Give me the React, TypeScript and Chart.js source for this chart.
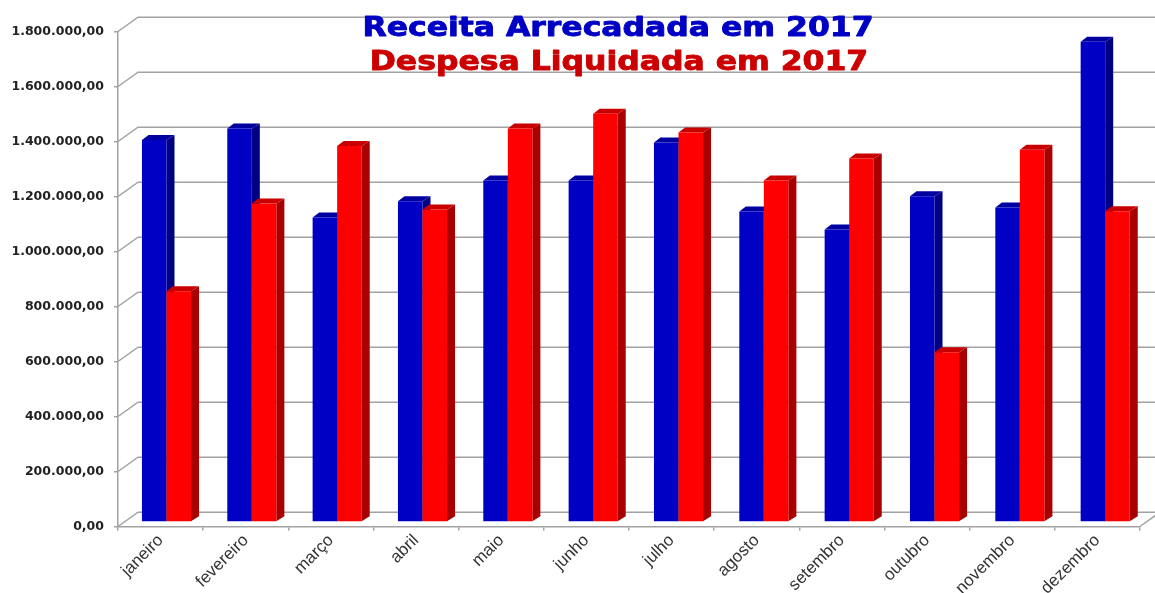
import React, { useEffect, useRef } from "react";
import { Chart, registerables } from "chart.js";

Chart.register(...registerables);

const categories = ["janeiro", "fevereiro", "março", "abril", "maio", "junho", "julho", "agosto", "setembro", "outubro", "novembro", "dezembro"];
const receita = [1389000, 1431000, 1107000, 1166000, 1242000, 1242000, 1380000, 1129000, 1064000, 1185000, 1144000, 1746000];
const despesa = [839000, 1158000, 1367000, 1136000, 1431000, 1485000, 1416000, 1242000, 1322000, 617000, 1354000, 1130000];
const titleLines = ["Receita Arrecadada em 2017", "Despesa Liquidada em 2017"];

const GRID = "#a2a2a2";
const WALL_DX = 20, WALL_DY = 14.3;
const BAR_DX = 5.9, BAR_DY = 4.5;
const BAR_SPREAD = 1.002;
const DEPTH_X = 8, DEPTH_Y = 5;
const TITLE_STRETCH = 1.165;

const faces = [
  { front: "#0000c4", side: "#000082", top: "#0000a0" },
  { front: "#ff0000", side: "#a80000", top: "#c80000" },
];

const scene3d = {
  id: "scene3d",
  beforeDatasetsDraw(chart: any) {
    const { ctx, scales, chartArea } = chart;
    const y = scales.y;
    const left = chartArea.left, right = chartArea.right;
    ctx.save();
    ctx.strokeStyle = GRID;
    ctx.lineWidth = 1.5;
    y.ticks.forEach((t: any) => {
      const py = y.getPixelForValue(t.value);
      ctx.beginPath();
      ctx.moveTo(left, py);
      ctx.lineTo(left + WALL_DX, py - WALL_DY);
      ctx.lineTo(chart.width + 5, py - WALL_DY);
      ctx.stroke();
    });
    const by = y.getPixelForValue(0);
    ctx.beginPath();
    ctx.moveTo(right, by);
    ctx.lineTo(right + WALL_DX, by - WALL_DY);
    ctx.stroke();
    ctx.restore();

    ctx.save();
    const cx0 = scales.x.getPixelForValue(0);
    ctx.translate(BAR_DX - cx0 * (BAR_SPREAD - 1), -BAR_DY);
    ctx.scale(BAR_SPREAD, 1);
    [0, 1].forEach((di) => {
      const f = faces[di];
      chart.getDatasetMeta(di).data.forEach((el: any) => {
        const p = el.getProps(["x", "y", "base", "width"], true);
        const x0 = p.x - p.width / 2, x1 = p.x + p.width / 2;
        ctx.fillStyle = f.side;
        ctx.beginPath();
        ctx.moveTo(x1, p.y);
        ctx.lineTo(x1 + DEPTH_X, p.y - DEPTH_Y);
        ctx.lineTo(x1 + DEPTH_X, p.base - DEPTH_Y);
        ctx.lineTo(x1, p.base);
        ctx.closePath();
        ctx.fill();
        ctx.fillStyle = f.top;
        ctx.beginPath();
        ctx.moveTo(x0, p.y);
        ctx.lineTo(x0 + DEPTH_X - 1.5, p.y - DEPTH_Y);
        ctx.lineTo(x1 + DEPTH_X, p.y - DEPTH_Y);
        ctx.lineTo(x1, p.y);
        ctx.closePath();
        ctx.fill();
        el.draw(ctx);
      });
    });
    ctx.restore();

    const drawTitle = (text: string, cx: number, by: number, color: string) => {
      ctx.save();
      ctx.translate(cx, by);
      ctx.scale(TITLE_STRETCH, 1);
      ctx.textAlign = "center";
      ctx.textBaseline = "alphabetic";
      ctx.font = "bold 27px 'DejaVu Sans'";
      ctx.fillStyle = color;
      ctx.strokeStyle = color;
      ctx.lineWidth = 0.9;
      ctx.lineJoin = "round";
      ctx.fillText(text, 0, 0);
      ctx.strokeText(text, 0, 0);
      ctx.restore();
    };
    drawTitle(titleLines[0], 618, 36, "#0000c4");
    drawTitle(titleLines[1], 619, 70, "#cc0000");
    return false;
  },
};

export default function App() {
  const ref = useRef<HTMLCanvasElement>(null);
  useEffect(() => {
    const chart = new Chart(ref.current!, {
      type: "bar",
      data: {
        labels: categories,
        datasets: [
          { label: "Receita Arrecadada", data: receita, backgroundColor: faces[0].front, borderWidth: 0 },
          { label: "Despesa Liquidada", data: despesa, backgroundColor: faces[1].front, borderWidth: 0 },
        ],
      },
      options: {
        responsive: false,
        animation: false,
        devicePixelRatio: 1,
        categoryPercentage: 0.575,
        barPercentage: 1,
        layout: { padding: { top: 31.5, right: 15, left: 0, bottom: 0 } },
        plugins: { legend: { display: false }, title: { display: false }, tooltip: { enabled: false } },
        scales: {
          x: {
            grid: { drawOnChartArea: false, color: GRID, tickLength: 4, lineWidth: 1.5 },
            border: { color: GRID, width: 1.5 },
            ticks: {
              color: "#333333",
              font: { family: "'Liberation Sans'", size: 17 },
              minRotation: 45,
              maxRotation: 45,
              padding: 0,
              autoSkip: false,
            },
            afterFit(s: any) { s.height = 66.5; },
          },
          y: {
            min: 0,
            max: 1800000,
            grid: { drawOnChartArea: false, color: GRID, tickLength: 4, lineWidth: 1.5 },
            border: { color: GRID, width: 1.5 },
            ticks: {
              stepSize: 200000,
              color: "#222222",
              padding: 10,
              font: { family: "'DejaVu Sans'", size: 12.5, weight: "bold" },
              callback: (v: any) => Number(v).toLocaleString("pt-BR", { minimumFractionDigits: 2, maximumFractionDigits: 2 }),
            },
            afterFit(s: any) { s.width = 118; },
          },
        },
      } as any,
      plugins: [scene3d as any],
    });
    return () => chart.destroy();
  }, []);
  return (
    <div style={{ position: "fixed", left: 0, top: 0, width: 1155, height: 593, background: "#fff", overflow: "hidden" }}>
      <canvas ref={ref} width={1155} height={593} style={{ display: "block" }} />
    </div>
  );
}
